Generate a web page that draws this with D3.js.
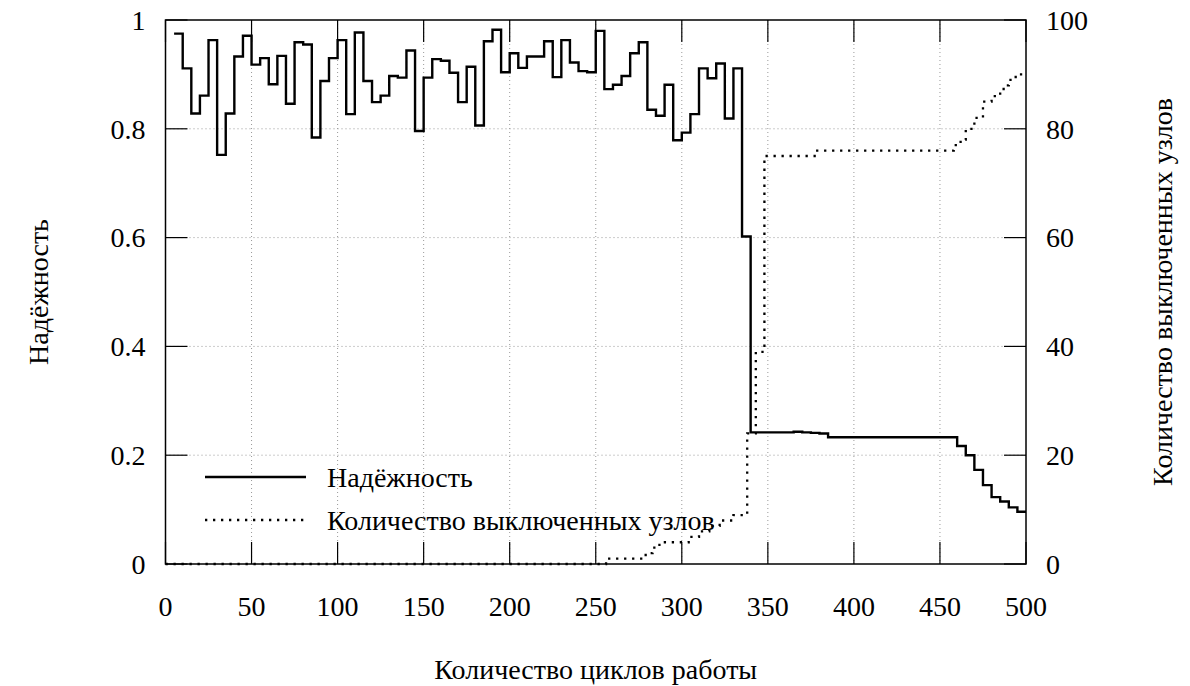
<!DOCTYPE html>
<html>
<head>
<meta charset="utf-8">
<script src="https://cdn.jsdelivr.net/npm/d3@7"></script>
</head>
<body style="margin:0">
<svg width="1190" height="686"></svg>
<script>
// reliability, one value every 5 cycles starting at 5
var relCycles = d3.range(5, 500, 5);
var relValues = [
  0.975, 0.911, 0.828, 0.861, 0.963, 0.752, 0.828, 0.933, 0.971, 0.918,
  0.930, 0.882, 0.934, 0.846, 0.959, 0.955, 0.784, 0.888, 0.930, 0.963,
  0.827, 0.977, 0.888, 0.849, 0.861, 0.897, 0.894, 0.944, 0.796, 0.894,
  0.928, 0.925, 0.903, 0.849, 0.914, 0.806, 0.961, 0.982, 0.904, 0.939,
  0.912, 0.933, 0.933, 0.961, 0.895, 0.963, 0.922, 0.906, 0.904, 0.980,
  0.873, 0.881, 0.897, 0.939, 0.959, 0.835, 0.824, 0.881, 0.779, 0.793,
  0.827, 0.911, 0.893, 0.920, 0.819, 0.911, 0.602, 0.242, 0.242, 0.242,
  0.242, 0.242, 0.243, 0.242, 0.241, 0.240, 0.233, 0.233, 0.233, 0.233,
  0.233, 0.233, 0.233, 0.233, 0.233, 0.233, 0.233, 0.233, 0.233, 0.233,
  0.233, 0.217, 0.200, 0.173, 0.145, 0.123, 0.115, 0.104, 0.096
];

// switched-off nodes (step changes)
var nodeCycles = [0, 256, 279, 283, 287, 304, 310, 316, 322, 330, 338, 343, 348, 378,
                  458, 462, 465, 470, 475, 480, 485, 487, 490, 494, 500];
var nodeValues = [0, 1, 2, 3, 4, 5, 6, 7, 8, 9, 24, 39, 75, 76,
                  77, 78, 80, 82, 85, 86, 87, 88, 89, 90, 90];

var xTicks = [0, 50, 100, 150, 200, 250, 300, 350, 400, 450, 500];
var yTicks = [0, 0.2, 0.4, 0.6, 0.8, 1];
var yTickLabels = ["0", "0.2", "0.4", "0.6", "0.8", "1"];
var y2Ticks = [0, 20, 40, 60, 80, 100];
var y2TickLabels = ["0", "20", "40", "60", "80", "100"];

var seriesNames = ["Надёжность", "Количество выключенных узлов"];
var xTitle = "Количество циклов работы";

var svg = d3.select("svg"),
    margin = { top: 20, right: 164, bottom: 122, left: 165.5 },
    width = +svg.attr("width") - margin.left - margin.right,
    height = +svg.attr("height") - margin.top - margin.bottom;

var x = d3.scaleLinear().domain([0, 500]).range([0, width]),
    y = d3.scaleLinear().domain([0, 1]).range([height, 0]),
    y2 = d3.scaleLinear().domain([0, 100]).range([height, 0]);

var g = svg.append("g")
    .attr("transform", "translate(" + margin.left + "," + margin.top + ")");

var tickLen = 22, fontSize = 28;

function label(sel) {
    return sel.attr("font-family", "Liberation Serif")
        .attr("style", "font-family: 'Liberation Serif', monospace !important; font-size: " + fontSize + "px")
        .attr("fill", "#000");
}

function tickMark(sel) {
    return sel.attr("stroke", "#000").attr("stroke-width", 1.2);
}

// grid
var grid = g.append("g")
    .attr("stroke", "#999")
    .attr("stroke-width", 1)
    .attr("stroke-dasharray", "1,3");
grid.selectAll(".gx")
    .data(xTicks.slice(1, -1))
    .enter().append("line")
    .attr("x1", function(d) { return x(d); })
    .attr("x2", function(d) { return x(d); })
    .attr("y1", 0).attr("y2", height);
grid.selectAll(".gy")
    .data(yTicks.slice(1, -1))
    .enter().append("line")
    .attr("x1", 0).attr("x2", width)
    .attr("y1", function(d) { return y(d); })
    .attr("y2", function(d) { return y(d); });

// tick marks, inward on all sides
var ticks = g.append("g");
xTicks.forEach(function(d) {
    ticks.append("line").call(tickMark)
        .attr("x1", x(d)).attr("x2", x(d)).attr("y1", height).attr("y2", height - tickLen);
    ticks.append("line").call(tickMark)
        .attr("x1", x(d)).attr("x2", x(d)).attr("y1", 0).attr("y2", tickLen);
});
yTicks.forEach(function(d) {
    ticks.append("line").call(tickMark)
        .attr("x1", 0).attr("x2", tickLen).attr("y1", y(d)).attr("y2", y(d));
});
y2Ticks.forEach(function(d) {
    ticks.append("line").call(tickMark)
        .attr("x1", width - tickLen).attr("x2", width).attr("y1", y2(d)).attr("y2", y2(d));
});

// tick labels
g.selectAll(".xl")
    .data(xTicks)
    .enter().append("text")
    .attr("x", function(d) { return x(d); })
    .attr("y", height + 52)
    .attr("text-anchor", "middle")
    .call(label)
    .text(function(d) { return d; });

g.selectAll(".yl")
    .data(yTicks)
    .enter().append("text")
    .attr("x", -20)
    .attr("y", function(d) { return y(d); })
    .attr("dy", "0.35em")
    .attr("text-anchor", "end")
    .call(label)
    .text(function(d, i) { return yTickLabels[i]; });

g.selectAll(".y2l")
    .data(y2Ticks)
    .enter().append("text")
    .attr("x", width + 20)
    .attr("y", function(d) { return y2(d); })
    .attr("dy", "0.35em")
    .attr("text-anchor", "start")
    .call(label)
    .text(function(d, i) { return y2TickLabels[i]; });

// axis titles
svg.append("text")
    .attr("x", margin.left + width / 2)
    .attr("y", 679)
    .attr("text-anchor", "middle")
    .call(label)
    .text(xTitle);

svg.append("text")
    .attr("transform", "translate(38," + (margin.top + height / 2) + ") rotate(-90)")
    .attr("dy", "0.35em")
    .attr("text-anchor", "middle")
    .call(label)
    .text(seriesNames[0]);

svg.append("text")
    .attr("transform", "translate(1162," + (margin.top + height / 2) + ") rotate(-90)")
    .attr("dy", "0.35em")
    .attr("text-anchor", "middle")
    .call(label)
    .text(seriesNames[1]);

// series
var relData = relCycles.map(function(c, i) { return [c, relValues[i]]; });
relData.push([500, relValues[relValues.length - 1]]);
var nodeData = nodeCycles.map(function(c, i) { return [c, nodeValues[i]]; });

var relLine = d3.line()
    .curve(d3.curveStepAfter)
    .x(function(d) { return x(d[0]); })
    .y(function(d) { return y(d[1]); });

var nodeLine = d3.line()
    .curve(d3.curveStepAfter)
    .x(function(d) { return x(d[0]); })
    .y(function(d) { return y2(d[1]); });

g.append("path")
    .datum(nodeData)
    .attr("fill", "none")
    .attr("stroke", "#000")
    .attr("stroke-width", 2.3)
    .attr("stroke-dasharray", "2.3,5.7")
    .attr("d", nodeLine);

g.append("path")
    .datum(relData)
    .attr("fill", "none")
    .attr("stroke", "#000")
    .attr("stroke-width", 2.4)
    .attr("d", relLine);

// frame
g.append("rect")
    .attr("width", width)
    .attr("height", height)
    .attr("fill", "none")
    .attr("stroke", "#000")
    .attr("stroke-width", 1.5);

// legend
var legend = g.append("g").attr("transform", "translate(" + (205 - margin.left) + "," + (477 - margin.top) + ")");
legend.append("line")
    .attr("x1", 0).attr("x2", 101).attr("y1", 0).attr("y2", 0)
    .attr("stroke", "#000").attr("stroke-width", 2.4);
legend.append("text")
    .attr("x", 122).attr("y", 0).attr("dy", "0.35em")
    .call(label)
    .text(seriesNames[0]);
legend.append("line")
    .attr("x1", 0).attr("x2", 101).attr("y1", 43).attr("y2", 43)
    .attr("stroke", "#000").attr("stroke-width", 2.3)
    .attr("stroke-dasharray", "2.3,5.7");
legend.append("text")
    .attr("x", 122).attr("y", 43).attr("dy", "0.35em")
    .call(label)
    .text(seriesNames[1]);
</script>
</body>
</html>
